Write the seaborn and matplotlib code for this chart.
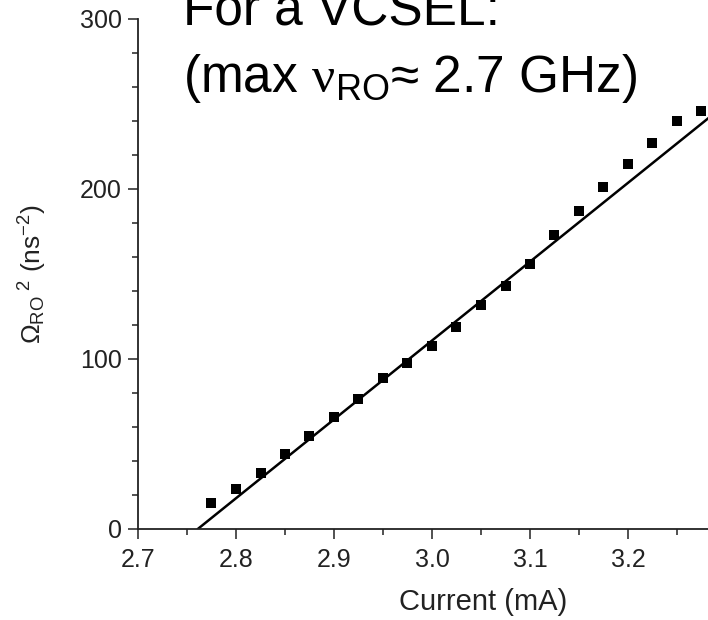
import matplotlib
matplotlib.use("Agg")
import matplotlib.pyplot as plt
import seaborn as sns
import pandas as pd
from matplotlib.ticker import MultipleLocator

# Data
current_ma = [2.775, 2.800, 2.825, 2.850, 2.875, 2.900, 2.925, 2.950, 2.975, 3.000,
              3.025, 3.050, 3.075, 3.100, 3.125, 3.150, 3.175, 3.200, 3.225, 3.250, 3.275]
omega_sq = [15.3, 23.5, 33.0, 44.0, 55.0, 65.7, 76.5, 88.8, 97.5, 107.8,
            118.6, 131.8, 142.8, 155.9, 173.1, 186.9, 201.0, 214.7, 226.9, 240.2, 246.1]
fit_x = [2.761, 3.30]
fit_y = [0.0, 250.0]
x_ticks = [2.7, 2.8, 2.9, 3.0, 3.1, 3.2]
y_ticks = [0, 100, 200, 300]

sns.set_style("ticks")
plt.rcParams["font.family"] = ["Liberation Sans", "DejaVu Sans"]
plt.rcParams["mathtext.fontset"] = "custom"
plt.rcParams["mathtext.rm"] = "Liberation Sans"
plt.rcParams["mathtext.it"] = "Liberation Sans:italic"
plt.rcParams["mathtext.bf"] = "Liberation Sans:bold"
plt.rcParams["mathtext.sf"] = "Liberation Serif"

fig = plt.figure(figsize=(7.08, 6.20), dpi=100)
ax = fig.add_axes([138 / 708, (620 - 529) / 620, (708 - 138) / 708, (529 - 19) / 620])

pts = pd.DataFrame({"current": current_ma, "omega": omega_sq})
fit = pd.DataFrame({"current": fit_x, "omega": fit_y})

sns.lineplot(data=fit, x="current", y="omega", ax=ax, color="black", linewidth=1.8)
sns.scatterplot(data=pts, x="current", y="omega", ax=ax, marker="s", s=52,
                color="black", linewidth=0, zorder=3)

ax.set_xlim(2.7, 2.7 + (708 - 138) / 980)
ax.set_ylim(0, 300)
ax.set_xticks(x_ticks)
ax.set_xticklabels([f"{v:.1f}" for v in x_ticks])
ax.set_yticks(y_ticks)
ax.set_yticklabels([str(v) for v in y_ticks])
ax.xaxis.set_minor_locator(MultipleLocator(0.05))
ax.yaxis.set_minor_locator(MultipleLocator(20))

for side in ["top", "right"]:
    ax.spines[side].set_visible(False)
for side in ["left", "bottom"]:
    ax.spines[side].set_linewidth(1.3)
    ax.spines[side].set_color("#222222")

ax.tick_params(axis="both", which="major", length=7.5, width=1.1, colors="#222222",
               labelsize=18, labelcolor="#222222")
ax.tick_params(axis="x", which="major", pad=6)
ax.tick_params(axis="y", which="major", pad=4)
ax.tick_params(axis="both", which="minor", length=4.3, width=1.1, colors="#222222")

ax.set_xlabel("Current (mA)", fontsize=21, color="#222222")
ax.xaxis.set_label_coords((483 - 138) / 570, -(588 - 529) / 510)
ax.set_ylabel(r"Ω$_{\mathrm{RO}}$$^{\ 2}$ (ns$^{-2}$)", fontsize=19, color="#222222", labelpad=22)

fig.text(183 / 708, 1 - 25 / 620, "For a VCSEL:", fontsize=37, color="black",
         ha="left", va="baseline")
fig.text(183 / 708, 1 - 92 / 620, r"(max $\mathsf{\nu}$$_{\mathrm{RO}}$≈ 2.7 GHz)", fontsize=37,
         color="black", ha="left", va="baseline")

fig.savefig("out.png", dpi=100)
